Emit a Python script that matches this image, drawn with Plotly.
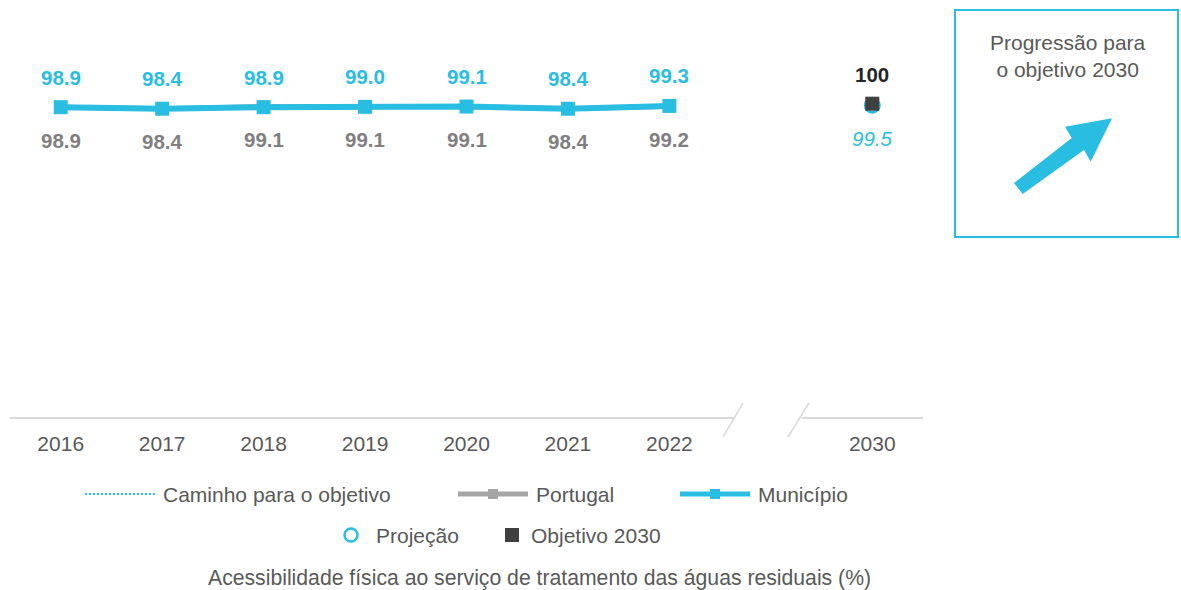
import plotly.graph_objects as go

# ---------------- data ----------------
years = ["2016", "2017", "2018", "2019", "2020", "2021", "2022"]
target_year = "2030"
municipio = [98.9, 98.4, 98.9, 99.0, 99.1, 98.4, 99.3]
portugal = [98.9, 98.4, 99.1, 99.1, 99.1, 98.4, 99.2]
projecao = [99.5]
objetivo = [100]
tick_labels = years + [target_year]
legend_names = ["Caminho para o objetivo", "Portugal", "Município", "Projeção", "Objetivo 2030"]
chart_title = "Acessibilidade física ao serviço de tratamento das águas residuais (%)"
box_title = "Progressão para<br>o objetivo 2030"

# ---------------- styling ----------------
W, H = 1181, 590
CYAN = "#29BDE1"
GRAY_LINE = "#A6A6A6"
GRAY_LABEL = "#7F7F7F"
DARK = "#404040"
TXT = "#595959"
FONT = "Liberation Sans, Arial, sans-serif"

def px(x):
    return x / W

def py(y):
    return 1 - y / H

# positions: data years on slots 0..6, the target year after a gap slot
x_years = list(range(len(years)))
x_target = [len(years) + 1]
tick_pos = x_years + x_target

fig = go.Figure()

fig.add_trace(go.Scatter(
    x=x_years, y=portugal, mode="lines+markers", name=legend_names[1],
    line=dict(color=GRAY_LINE, width=5),
    marker=dict(symbol="square", size=12, color=GRAY_LINE),
    showlegend=False, hoverinfo="skip"))

fig.add_trace(go.Scatter(
    x=x_years, y=municipio, mode="lines+markers", name=legend_names[2],
    line=dict(color=CYAN, width=6),
    marker=dict(symbol="square", size=14, color=CYAN),
    showlegend=False, hoverinfo="skip"))

fig.add_trace(go.Scatter(
    x=x_target, y=projecao, mode="markers", name=legend_names[3],
    marker=dict(symbol="circle-open", size=14, color=CYAN, line=dict(width=3)),
    showlegend=False, hoverinfo="skip"))

fig.add_trace(go.Scatter(
    x=x_target, y=objetivo, mode="markers", name=legend_names[4],
    marker=dict(symbol="square", size=14, color=DARK),
    showlegend=False, hoverinfo="skip"))

annotations = []
for xv, v in zip(x_years, municipio):
    annotations.append(dict(x=xv, y=v, xref="x", yref="y", text=f"<b>{v:.1f}</b>",
                            showarrow=False, yshift=30,
                            font=dict(family=FONT, size=20.5, color=CYAN)))
for xv, v in zip(x_years, portugal):
    annotations.append(dict(x=xv, y=v, xref="x", yref="y", text=f"<b>{v:.1f}</b>",
                            showarrow=False, yshift=-33,
                            font=dict(family=FONT, size=20.5, color=GRAY_LABEL)))
for xv, v in zip(x_target, objetivo):
    annotations.append(dict(x=xv, y=v, xref="x", yref="y", text=f"<b>{v}</b>",
                            showarrow=False, yshift=29,
                            font=dict(family=FONT, size=20.5, color="#262626")))
for xv, v in zip(x_target, projecao):
    annotations.append(dict(x=xv, y=v, xref="x", yref="y", text=f"<i>{v:.1f}</i>",
                            showarrow=False, yshift=-33,
                            font=dict(family=FONT, size=20.5, color=CYAN)))

# ---------- manual legend ----------
shapes = []
row1, row2 = 494, 535
# Caminho para o objetivo
shapes.append(dict(type="line", xref="paper", yref="paper", x0=px(85), x1=px(155),
                   y0=py(row1), y1=py(row1), line=dict(color=CYAN, width=2, dash="2px,2px")))
# Portugal
shapes.append(dict(type="line", xref="paper", yref="paper", x0=px(458), x1=px(528),
                   y0=py(row1), y1=py(row1), line=dict(color=GRAY_LINE, width=5)))
shapes.append(dict(type="rect", xref="paper", yref="paper", x0=px(488), x1=px(498),
                   y0=py(row1 + 5), y1=py(row1 - 5), line=dict(width=0), fillcolor=GRAY_LINE))
# Município
shapes.append(dict(type="line", xref="paper", yref="paper", x0=px(680), x1=px(750),
                   y0=py(row1), y1=py(row1), line=dict(color=CYAN, width=5)))
shapes.append(dict(type="rect", xref="paper", yref="paper", x0=px(710), x1=px(720),
                   y0=py(row1 + 5), y1=py(row1 - 5), line=dict(width=0), fillcolor=CYAN))
# Projeção
shapes.append(dict(type="circle", xref="paper", yref="paper", x0=px(344.5), x1=px(357.5),
                   y0=py(row2 + 6.5), y1=py(row2 - 6.5), line=dict(color=CYAN, width=2.5)))
# Objetivo 2030
shapes.append(dict(type="rect", xref="paper", yref="paper", x0=px(505), x1=px(519),
                   y0=py(row2 + 7), y1=py(row2 - 7), line=dict(width=0), fillcolor=DARK))

legend_text = [(legend_names[0], 161, row1), (legend_names[1], 534, row1),
               (legend_names[2], 756, row1), (legend_names[3], 374, row2),
               (legend_names[4], 529, row2)]
for t, xx, yy in legend_text:
    annotations.append(dict(x=px(xx), y=py(yy), xref="paper", yref="paper", text=t,
                            showarrow=False, xanchor="left", yanchor="middle",
                            font=dict(family=FONT, size=21, color=TXT)))

annotations.append(dict(x=px(539), y=py(578), xref="paper", yref="paper", text=chart_title,
                        showarrow=False, xanchor="center", yanchor="middle",
                        font=dict(family=FONT, size=21.2, color=TXT)))

# ---------- broken x axis line ----------
axis_col = "#D9D9D9"
shapes.append(dict(type="line", xref="paper", yref="paper", x0=px(10), x1=px(734),
                   y0=py(418), y1=py(418), line=dict(color=axis_col, width=2)))
shapes.append(dict(type="line", xref="paper", yref="paper", x0=px(802), x1=px(923),
                   y0=py(418), y1=py(418), line=dict(color=axis_col, width=2)))
shapes.append(dict(type="line", xref="paper", yref="paper", x0=px(723), x1=px(743),
                   y0=py(437), y1=py(403), line=dict(color=axis_col, width=1.5)))
shapes.append(dict(type="line", xref="paper", yref="paper", x0=px(788), x1=px(809),
                   y0=py(437), y1=py(403), line=dict(color=axis_col, width=1.5)))

# ---------- progress box ----------
shapes.append(dict(type="rect", xref="paper", yref="paper", x0=px(955), x1=px(1178),
                   y0=py(237), y1=py(10), line=dict(color=CYAN, width=2), fillcolor="white"))
arrow_pts = [(1014, 183), (1071.7, 138), (1065, 126.7), (1112, 118.3),
             (1090.7, 161.7), (1084, 150), (1022.7, 194)]
path = "M " + " L ".join(f"{px(a):.5f},{py(b):.5f}" for a, b in arrow_pts) + " Z"
shapes.append(dict(type="path", xref="paper", yref="paper", path=path,
                   line=dict(width=0), fillcolor=CYAN))
annotations.append(dict(x=px(1068), y=py(56), xref="paper", yref="paper", text=box_title,
                        showarrow=False, xanchor="center", yanchor="middle",
                        font=dict(family=FONT, size=21, color=TXT)))

fig.update_layout(
    width=W, height=H,
    margin=dict(l=0, r=0, t=0, b=0),
    paper_bgcolor="white", plot_bgcolor="white",
    showlegend=False,
    shapes=shapes, annotations=annotations,
    xaxis=dict(domain=[px(10), px(923)], range=[-0.5, 8.5], tickmode="array",
               tickvals=tick_pos, ticktext=tick_labels, showgrid=False, zeroline=False,
               showline=False, ticks="", ticklabelstandoff=11,
               tickfont=dict(family=FONT, size=21, color=TXT), fixedrange=True),
    yaxis=dict(domain=[py(418), py(88)], range=[0, 105], visible=False,
               showgrid=False, zeroline=False, fixedrange=True),
    font=dict(family=FONT),
)

fig.write_html("out.html", config={"displayModeBar": False},
               post_script="document.body.style.margin='0';document.body.style.overflow='hidden';")
